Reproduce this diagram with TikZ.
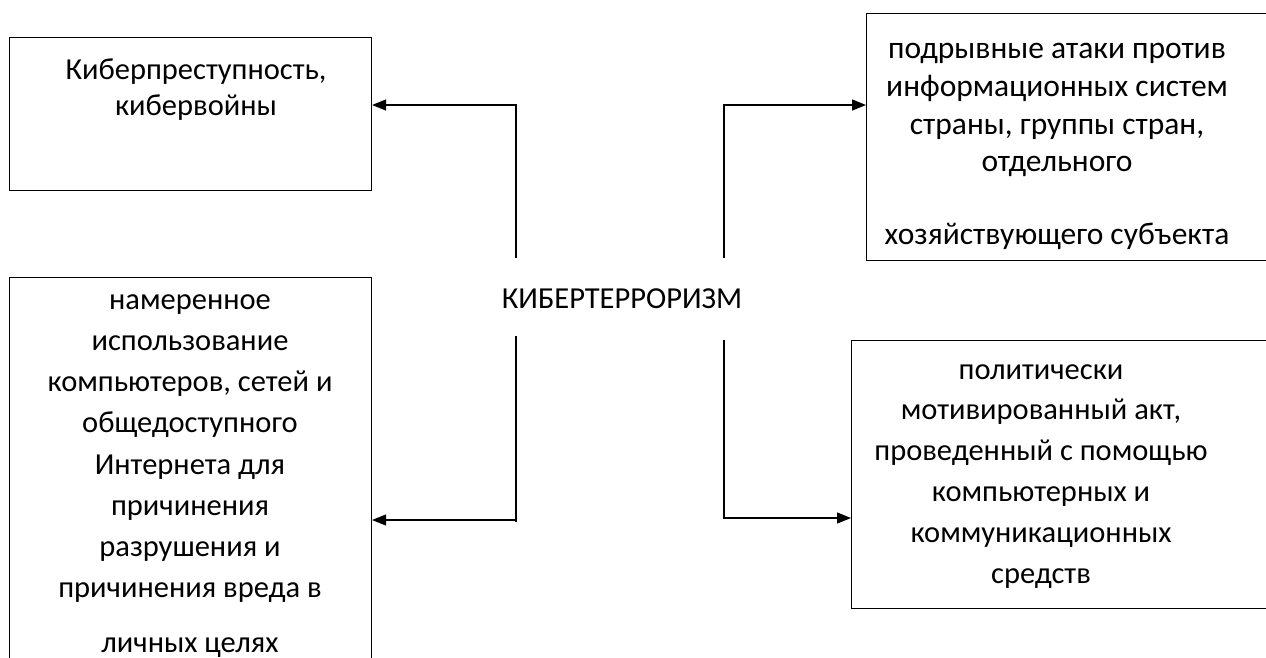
\documentclass[tikz,border=0pt]{standalone}
\usepackage{fontspec}
\setmainfont{Carlito}
\usetikzlibrary{arrows.meta}
\begin{document}
\begin{tikzpicture}[x=1pt,y=-1pt,
  box/.style={draw, line width=1.1pt, inner sep=0pt, anchor=north west},
  txt/.style={align=center, inner sep=0pt, anchor=north},
  conn/.style={line width=1.3pt},
  arr/.style={line width=1.3pt, -{Triangle[length=14pt,width=11pt]}}]
\useasboundingbox (0,0) rectangle (1266,657);
\clip (0,0) rectangle (1266,657);
% boxes
\node[box, minimum width=362pt, minimum height=153pt] (tl) at (9,37) {};
\node[box, minimum width=420pt, minimum height=247pt] (tr) at (866,13) {};
\node[box, minimum width=362pt, minimum height=420pt] (bl) at (9,277) {};
\node[box, minimum width=430pt, minimum height=268pt] (br) at (851,340) {};
% texts
\node[txt, font=\fontsize{30.5}{36}\selectfont] (tlt) at (196,54.3) {\strut Киберпреступность,\\кибервойны};
\node[txt, font=\fontsize{31.5}{37.7}\selectfont] (trt) at (1057,32.1) {\strut подрывные атаки против\\информационных систем\\страны, группы стран,\\отдельного\\[35.3pt]хозяйствующего субъекта};
\node[txt, font=\fontsize{30.5}{41.2}\selectfont] (blt) at (190,280.2) {\strut намеренное\\использование\\компьютеров, сетей и\\общедоступного\\Интернета для\\причинения\\разрушения и\\причинения вреда в\\[14pt]личных целях};
\node[txt, font=\fontsize{30.5}{40.8}\selectfont] (brt) at (1041,350.4) {\strut политически\\мотивированный акт,\\проведенный с помощью\\компьютерных и\\коммуникационных\\средств};
\node[font=\fontsize{30.5}{38}\selectfont, anchor=base, inner sep=0pt] (c) at (622,308) {КИБЕРТЕРРОРИЗМ};
% connectors
\coordinate (l1b) at (516,258); \coordinate (l1t) at (516,105);
\coordinate (l2t) at (516,336); \coordinate (l2b) at (516,522); \coordinate (l2h) at (516,520);
\coordinate (r1b) at (724,258); \coordinate (r1t) at (724,105);
\coordinate (r2t) at (724,340); \coordinate (r2b) at (724,518);
\draw[arr] (l1b) -- (l1t) -- (tl.east |- l1t);
\draw[conn] (l2t) -- (l2b);
\draw[arr] (l2h) -- (bl.east |- l2h);
\draw[arr] (r1b) -- (r1t) -- (tr.west |- r1t);
\draw[arr] (r2t) -- (r2b) -- (br.west |- r2b);
\end{tikzpicture}
\end{document}
